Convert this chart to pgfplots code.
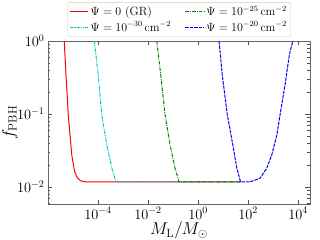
\documentclass[border=0pt]{standalone}
\usepackage{pgfplots}
\pgfplotsset{compat=1.18}
\definecolor{mplc}{rgb}{0,0.75,0.75}
\definecolor{mplg}{rgb}{0,0.5,0}
\begin{document}
\begin{tikzpicture}
\useasboundingbox (-48bp,-36bp) rectangle (272bp,204bp);
\begin{axis}[
  scale only axis, width=262bp, height=163bp,
  xmode=log, ymode=log,
  xmin=1e-6, xmax=3e4, ymin=0.00585, ymax=1,
  xtick={1e-4,1e-2,1,1e2,1e4},
  minor xtick={},
  ytick={0.01,0.1,1},
  minor ytick={0.006,0.007,0.008,0.009,0.02,0.03,0.04,0.05,0.06,0.07,0.08,0.09,0.2,0.3,0.4,0.5,0.6,0.7,0.8,0.9},
  tick align=inside, major tick length=4.5bp, minor tick length=2.5bp,
  every tick/.style={black!70, line width=0.6pt},
  axis line style={black!60, line width=0.7pt},
  tick label style={font=\fontsize{14}{16}\selectfont},
  label style={font=\fontsize{17}{19}\selectfont},
  xlabel={$M_{\mathrm{L}}/M_{\odot}$},
  ylabel={$f_{\mathrm{PBH}}$},
  xlabel style={yshift=4bp},
  ylabel style={yshift=-7bp},
  legend columns=2,
  legend style={at={(0.5,1)}, anchor=south, yshift=4bp, draw=black!20, rounded corners=2pt,
    font=\fontsize{11.5}{13}\selectfont, /tikz/every even column/.append style={column sep=12bp},
    inner sep=2bp, row sep=0.5bp},
  legend cell align=left,
]
\addlegendimage{legend image code/.code={\color{red}\draw[red, line width=1pt] (0cm,0cm) -- (0.65cm,0cm);}}
\addlegendentry{$\Psi=0\ (\mathrm{GR})$}
\addlegendimage{legend image code/.code={\color{mplg}\draw[mplg, line width=1pt, dash pattern=on 3.5pt off 1.2pt on 0.8pt off 1.2pt] (0cm,0cm) -- (0.65cm,0cm);}}
\addlegendentry{$\Psi=10^{-25}\,\mathrm{cm}^{-2}$}
\addlegendimage{legend image code/.code={\color{mplc}\draw[mplc, line width=1pt, dash pattern=on 3pt off 1pt on 0.8pt off 1pt on 0.8pt off 1pt] (0cm,0cm) -- (0.65cm,0cm);}}
\addlegendentry{$\Psi=10^{-30}\,\mathrm{cm}^{-2}$}
\addlegendimage{legend image code/.code={\color{blue}\draw[blue, line width=1pt, dash pattern=on 3.5pt off 1pt] (0cm,0cm) -- (0.65cm,0cm);}}
\addlegendentry{$\Psi=10^{-20}\,\mathrm{cm}^{-2}$}
\addplot[red, line width=1pt, forget plot] coordinates {
(4.47e-6,1) (5.25e-6,0.339) (6.46e-6,0.0977) (8.91e-6,0.0275) (1.15e-5,0.0165) (1.45e-5,0.0135) (2.0e-5,0.0122) (3.02e-5,0.01175) (50.1,0.01175)};
\addplot[mplc, line width=1pt, forget plot, dash pattern=on 3pt off 1pt on 0.8pt off 1pt on 0.8pt off 1pt] coordinates {
(7.08e-5,1) (1.023e-4,0.339) (1.41e-4,0.0977) (2.24e-4,0.038) (3.55e-4,0.0182) (5.25e-4,0.01175) (50.1,0.01175)};
\addplot[mplg, line width=1pt, forget plot, dash pattern=on 3.5pt off 1.2pt on 0.8pt off 1.2pt] coordinates {
(0.0224,1) (0.0324,0.339) (0.0479,0.0977) (0.0759,0.038) (0.120,0.0182) (0.174,0.01175) (50.1,0.01175)};
\addplot[blue, line width=1pt, forget plot, dash pattern=on 3.5pt off 1pt] coordinates {
(6.92,1) (9.33,0.339) (14.8,0.0977) (24.5,0.038) (35.5,0.0182) (50.1,0.01175) (120,0.01175) (302,0.0132) (562,0.0182) (891,0.0275) (1413,0.0513) (1905,0.0977) (3020,0.251) (4467,0.646) (6166,1)};
\end{axis}
\end{tikzpicture}
\end{document}
